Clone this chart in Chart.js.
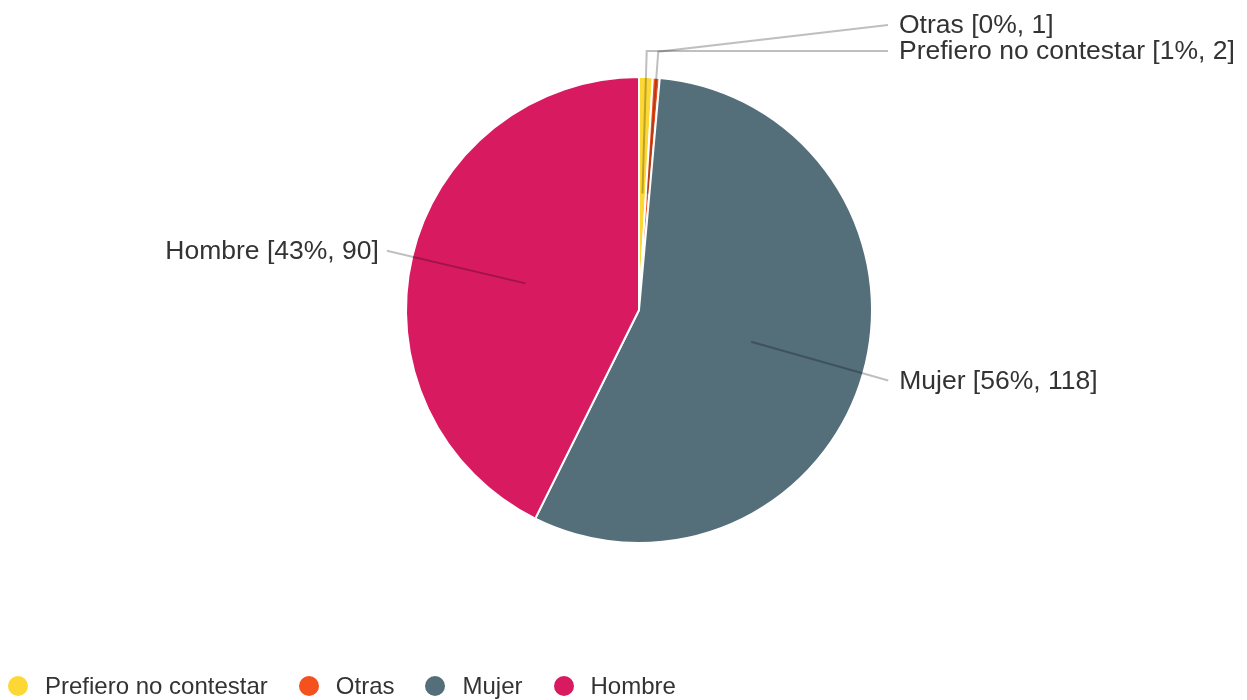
<!DOCTYPE html>
<html lang="es">
<head>
<meta charset="UTF-8">
<title>Género</title>
<script src="https://cdn.jsdelivr.net/npm/chart.js"></script>
<style>
    html, body {
        margin: 0;
        padding: 0;
        background: #fff;
        overflow: hidden;
    }
    .wrap {
        position: relative;
        width: 1247px;
        height: 700px;
    }
    /* legend is plain html under the pie */
    .legend {
        position: absolute;
        left: 8px;
        top: 674px;
        display: flex;
        align-items: center;
        font-family: "Liberation Sans", Arial, sans-serif;
        font-size: 24px;
        color: #333;
        line-height: 24px;
        white-space: nowrap;
    }
    .legend .item {
        display: flex;
        align-items: center;
        margin-right: 31px;
    }
    .legend .dot {
        width: 20px;
        height: 20px;
        border-radius: 50%;
        margin-right: 17px;
    }
</style>
</head>
<body>
<div class="wrap">
    <canvas id="pieChart"></canvas>
    <div class="legend" id="legend"></div>
</div>

<script>
    const categories = ['Prefiero no contestar', 'Otras', 'Mujer', 'Hombre'];
    const counts = [2, 1, 118, 90];
    const sliceColors = ['#FDD835', '#F4511E', '#546E7A', '#D81B60'];

    const total = counts.reduce((a, b) => a + b, 0);

    // labels outside the pie with leader lines
    const outsideLabels = {
        id: 'outsideLabels',
        afterDatasetsDraw(chart) {
            const ctx = chart.ctx;
            const arcs = chart.getDatasetMeta(0).data;
            const placed = { left: [], right: [] };
            const gap = 26;

            ctx.save();
            ctx.font = '26.5px "Liberation Sans", Arial, sans-serif';
            ctx.textBaseline = 'middle';

            arcs.forEach((arc, i) => {
                const p = arc.getProps(['x', 'y', 'startAngle', 'endAngle', 'outerRadius'], true);
                const mid = (p.startAngle + p.endAngle) / 2;
                const r = p.outerRadius;
                const cos = Math.cos(mid), sin = Math.sin(mid);
                const inner = { x: p.x + cos * r * 0.5, y: p.y + sin * r * 0.5 };
                const elbow = { x: p.x + cos * (r + 26), y: p.y + sin * (r + 26) };
                const side = cos >= 0 ? 'right' : 'left';

                // push label away from others on the same side
                let ly = elbow.y;
                const up = ly < p.y;
                let moved = true;
                while (moved) {
                    moved = false;
                    placed[side].forEach(y0 => {
                        if (Math.abs(y0 - ly) < gap) {
                            ly = up ? y0 - gap : y0 + gap;
                            moved = true;
                        }
                    });
                }
                placed[side].push(ly);

                let endX;
                if (side === 'right') endX = Math.max(elbow.x, p.x + r + 16);
                else endX = Math.min(elbow.x, p.x - r - 16);

                ctx.strokeStyle = 'rgba(0, 0, 0, 0.25)';
                ctx.lineWidth = 2;
                ctx.beginPath();
                ctx.moveTo(inner.x, inner.y);
                ctx.lineTo(elbow.x, elbow.y);
                ctx.lineTo(endX, ly);
                ctx.stroke();

                const pct = Math.round(counts[i] / total * 100);
                const text = categories[i] + ' [' + pct + '%, ' + counts[i] + ']';
                ctx.fillStyle = '#333';
                if (side === 'right') {
                    ctx.textAlign = 'left';
                    ctx.fillText(text, endX + 11, ly + 1);
                } else {
                    ctx.textAlign = 'right';
                    ctx.fillText(text, endX - 8, ly + 1);
                }
            });
            ctx.restore();
        }
    };

    new Chart(document.getElementById('pieChart'), {
        type: 'pie',
        data: {
            labels: categories,
            datasets: [{
                data: counts,
                backgroundColor: sliceColors,
                borderColor: '#fff',
                borderWidth: 2
            }]
        },
        options: {
            responsive: true,
            maintainAspectRatio: false,
            animation: false,
            layout: {
                padding: { top: 76, bottom: 156, left: 31, right: 0 }
            },
            plugins: {
                legend: { display: false },
                tooltip: { enabled: false }
            }
        },
        plugins: [outsideLabels]
    });

    // html legend built from the same arrays
    const legend = document.getElementById('legend');
    categories.forEach((name, i) => {
        const item = document.createElement('div');
        item.className = 'item';
        const dot = document.createElement('span');
        dot.className = 'dot';
        dot.style.background = sliceColors[i];
        const label = document.createElement('span');
        label.textContent = name;
        item.appendChild(dot);
        item.appendChild(label);
        legend.appendChild(item);
    });
</script>
</body>
</html>
